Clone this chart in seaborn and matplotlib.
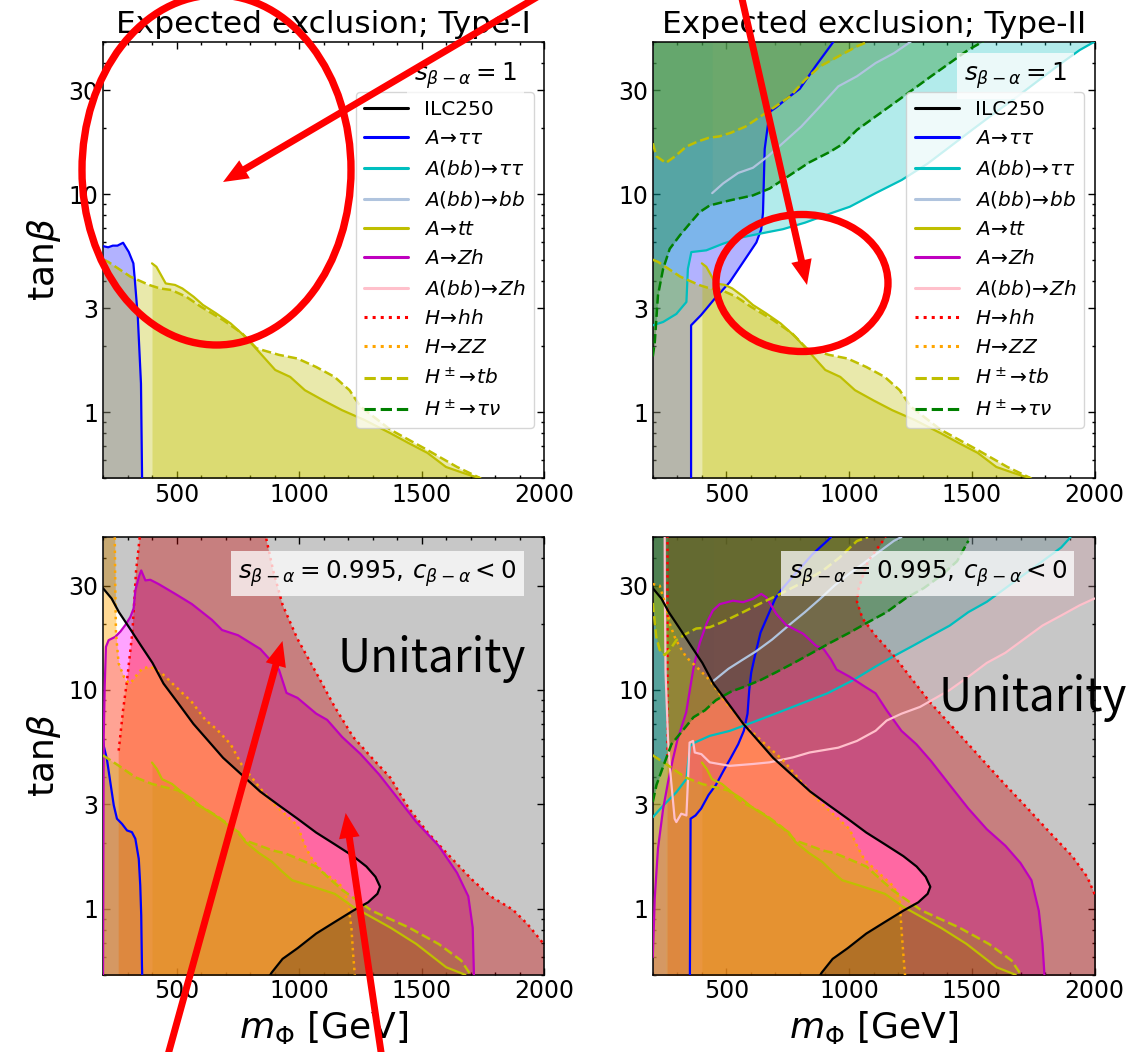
import numpy as np
import matplotlib
matplotlib.use("Agg")
import matplotlib.pyplot as plt
import seaborn as sns
from matplotlib.lines import Line2D
from matplotlib.patches import Ellipse, FancyArrowPatch
from matplotlib.ticker import LogLocator, MultipleLocator, NullFormatter

# ---------------- data (m in GeV, tanb) ----------------
# upper row, s_{b-a} = 1
att_x = [400, 418, 433, 456, 494, 524, 570, 608, 661, 721, 782, 842, 903, 964, 1024, 1100, 1176, 1267, 1373, 1448, 1524, 1600, 1661, 1706, 1736, 1760]
att_y = [4.81, 4.64, 4.33, 3.89, 3.83, 3.69, 3.38, 3.10, 2.84, 2.55, 2.21, 1.86, 1.56, 1.45, 1.26, 1.13, 1.02, 0.92, 0.80, 0.72, 0.65, 0.56, 0.53, 0.51, 0.50, 0.47]
tbl_x = [200, 221, 312, 388, 433, 479, 540, 600, 691, 767, 827, 918, 994, 1070, 1145, 1206, 1251, 1373, 1524, 1645, 1736, 1770]
tbl_y = [5.0, 4.89, 4.18, 3.83, 3.69, 3.63, 3.38, 3.04, 2.64, 2.30, 1.96, 1.83, 1.76, 1.61, 1.45, 1.26, 1.06, 0.83, 0.67, 0.56, 0.50, 0.47]
tau1_x = [200, 221, 240, 259, 282, 305, 324, 330, 342, 355, 360]
tau1_y = [5.77, 5.7, 5.8, 5.8, 5.98, 5.43, 4.81, 4.03, 2.74, 1.35, 0.45]

tau2_y = [0.45, 2.5, 2.78, 3.31, 3.94, 4.87, 6.0, 6.9, 8.2, 16.1, 23.8, 25.0, 27.3, 30.4, 39.0, 49.6, 80]
tau2_x = [356, 356, 396, 452, 513, 568, 622, 642, 649, 656, 676, 703, 744, 799, 866, 934, 1050]
bbtau2_x = [200, 242, 296, 337, 343, 357, 418, 486, 568, 636, 730, 821, 921, 1003, 1108, 1214, 1320, 1411, 1501, 1592, 1683, 1773, 1864, 1940, 2000]
bbtau2_y = [2.5, 2.59, 2.82, 3.2, 4.54, 5.42, 5.52, 5.92, 6.35, 6.58, 6.9, 7.4, 8.13, 8.75, 10.1, 11.6, 13.8, 16.5, 19.7, 23.5, 27.9, 33.3, 39.8, 45.8, 50]
bbbb2_x = [442, 487, 548, 608, 669, 729, 805, 881, 956, 1032, 1108, 1183, 1251]
bbbb2_y = [10.1, 11.2, 12.5, 13.2, 14.9, 17.1, 20.4, 25.2, 31.2, 34.7, 39.9, 44.3, 50]
taunu2_x = [200, 208, 221, 242, 269, 310, 350, 391, 432, 513, 608, 676, 758, 839, 921, 975, 1032, 1108, 1183, 1259, 1334, 1410, 1486, 1546]
taunu2_y = [1.8, 2.09, 3.43, 4.54, 5.61, 6.46, 7.31, 8.27, 8.87, 9.35, 9.86, 10.6, 12.2, 14.0, 15.6, 17.0, 19.7, 22.7, 26.1, 30.1, 34.7, 39.9, 45.9, 50.1]
tbu2_x = [200, 215, 253, 291, 336, 382, 427, 472, 518, 578, 639, 699, 760, 820, 881, 956, 1032, 1077]
tbu2_y = [17.1, 14.9, 13.9, 14.9, 16.5, 17.4, 18.1, 18.4, 19.1, 20.4, 22.7, 25.2, 28.1, 33.4, 38.5, 42.8, 47.6, 50]

# lower row, s_{b-a} = 0.995, c_{b-a} < 0
ilc_y = [29.2, 26.2, 22.7, 19.0, 15.9, 13.3, 10.7, 8.67, 7.0, 5.85, 4.90, 4.10, 3.43, 2.97, 2.58, 2.23, 1.97, 1.74, 1.56, 1.40, 1.26, 1.17, 1.07, 0.98, 0.87, 0.77, 0.66, 0.59, 0.51, 0.45]
ilc_x = [200, 235, 265, 311, 356, 402, 447, 508, 569, 630, 690, 766, 842, 918, 994, 1070, 1146, 1221, 1275, 1312, 1331, 1320, 1282, 1221, 1146, 1070, 994, 933, 888, 860]
attb_x = [400, 420, 441, 482, 523, 563, 604, 658, 713, 754, 781, 836, 890, 931, 972, 1039, 1146, 1221, 1373, 1479, 1601, 1677, 1700]
attb_y = [4.66, 4.35, 3.91, 3.72, 3.40, 3.18, 2.91, 2.67, 2.40, 2.24, 2.02, 1.8, 1.64, 1.48, 1.35, 1.28, 1.17, 1.02, 0.82, 0.69, 0.54, 0.5, 0.47]
tblb_x = [200, 203, 264, 332, 400, 454, 509, 563, 618, 672, 727, 781, 836, 890, 945, 1070, 1176, 1297, 1449, 1570, 1662, 1700, 1730]
tblb_y = [5.05, 5.0, 4.51, 3.99, 3.72, 3.59, 3.47, 3.07, 2.86, 2.62, 2.36, 2.05, 1.95, 1.85, 1.79, 1.56, 1.22, 0.98, 0.82, 0.69, 0.58, 0.5, 0.46]

tau3_x = [200, 203, 216, 230, 244, 257, 278, 298, 318, 332, 346, 352, 356, 359, 361]
tau3_y = [6.0, 5.55, 4.83, 3.78, 2.97, 2.58, 2.44, 2.28, 2.24, 2.09, 1.69, 1.28, 0.935, 0.55, 0.45]
zh3_x = [200, 203, 207, 212, 223, 250, 271, 291, 312, 325, 332, 346, 356, 373, 393, 427, 495, 563, 645, 686, 751, 842, 918, 949, 994, 1070, 1115, 1176, 1251, 1327, 1403, 1479, 1570, 1645, 1691, 1709, 1714, 1716]
zh3_y = [0.45, 6.15, 10.4, 15.75, 16.9, 17.5, 18.5, 19.8, 21.6, 23.6, 28.5, 32.8, 35.2, 31.7, 31.9, 30.5, 27.5, 24.7, 20.9, 18.8, 17.8, 15.4, 12.4, 9.7, 9.2, 7.8, 7.3, 6.1, 5.1, 4.11, 3.2, 2.49, 1.94, 1.46, 1.14, 0.82, 0.5, 0.45]
zz3_x = [200, 248, 250, 253, 264, 291, 311, 332, 359, 393, 441, 495, 563, 618, 665, 721, 766, 842, 903, 963, 994, 1024, 1054, 1100, 1146, 1176, 1199, 1214, 1221, 1231]
zz3_y = [80, 50, 29.5, 18.1, 13.2, 11.1, 10.7, 11.5, 12.5, 12.8, 11.9, 10.4, 8.8, 7.3, 6.6, 5.65, 4.56, 3.55, 2.97, 2.58, 2.40, 1.94, 1.68, 1.46, 1.35, 1.26, 1.09, 0.82, 0.62, 0.45]
hhl3_x = [264, 264, 282, 297, 320, 335, 350, 356]
hhl3_y = [0.3, 5.28, 8.1, 10.8, 18.4, 35, 50, 80]
hhr3_x = [850, 865, 895, 933, 994, 1070, 1145, 1221, 1297, 1373, 1448, 1524, 1600, 1706, 1782, 1873, 1933, 1999, 2100]
hhr3_y = [80, 50, 35, 24.5, 17.1, 12.0, 8.4, 6.1, 4.9, 3.97, 2.88, 2.24, 1.81, 1.36, 1.14, 0.99, 0.85, 0.69, 0.45]

tau4_x = [351, 354, 374, 397, 427, 457, 487, 518, 548, 571, 586, 593, 601, 616, 639, 669, 699, 729, 790, 850, 911, 926, 960]
tau4_y = [0.45, 2.58, 2.67, 2.87, 3.31, 3.68, 4.25, 4.90, 5.65, 6.51, 7.79, 10, 12.0, 14.3, 18.3, 21.9, 26.2, 29.2, 34.9, 41.7, 48.1, 49.9, 80]
bbtau4_x = [200, 242, 296, 337, 345, 352, 371, 432, 513, 568, 699, 805, 911, 1017, 1108, 1183, 1259, 1334, 1410, 1486, 1561, 1637, 1713, 1788, 1864, 1902]
bbtau4_y = [2.62, 2.96, 3.41, 3.92, 4.8, 5.55, 5.75, 6.17, 6.5, 6.85, 7.79, 8.67, 9.65, 11.1, 12.8, 14.3, 15.9, 17.7, 19.7, 22.7, 25.3, 29.2, 33.7, 38.8, 44.8, 49.9]
bbbb4_x = [447, 508, 566, 620, 686, 760, 820, 880, 940, 1000, 1060, 1108, 1183, 1213]
bbbb4_y = [11.0, 12.5, 13.75, 15.0, 17.0, 20.0, 22.7, 26.0, 30.0, 34.0, 38.0, 41.7, 48.1, 50]
zh4_x = [200, 208, 221, 242, 262, 282, 300, 336, 357, 368, 392, 418, 430, 445, 473, 527, 568, 608, 642, 663, 703, 744, 812, 866, 896, 926, 949, 1002, 1062, 1108, 1153, 1213, 1274, 1334, 1410, 1486, 1561, 1637, 1698, 1743, 1773, 1788, 1796, 1800]
zh4_y = [0.6, 1.12, 1.88, 2.86, 3.79, 4.83, 5.9, 7.9, 11.0, 13.0, 16.5, 20.0, 21.4, 23.1, 24.7, 25.6, 25.2, 26.1, 27.5, 26.5, 22.3, 19.8, 18.1, 15.9, 15.4, 13.8, 12.4, 11.5, 10.4, 9.65, 8.07, 6.51, 5.65, 4.73, 3.68, 2.87, 2.31, 1.94, 1.62, 1.35, 0.98, 0.69, 0.5, 0.45]
bbzh4_x = [248, 249, 252, 262, 269, 289, 296, 316, 337, 350, 364, 371, 398, 432, 513, 608, 676, 771, 839, 956, 1032, 1108, 1153, 1213, 1289, 1410, 1486, 1561, 1637, 1713, 1788, 1864, 1940, 2000]
bbzh4_y = [80, 30, 12, 6, 4.5, 2.58, 2.49, 2.72, 2.67, 5.75, 5.85, 5.18, 5.09, 4.67, 4.5, 4.59, 4.67, 4.92, 5.18, 5.45, 5.85, 6.51, 7.25, 7.79, 8.37, 10, 11.5, 13.3, 14.8, 17.1, 19.7, 21.9, 24.4, 26.2]
zz4_x = [200, 228, 255, 255, 269, 289, 310, 337, 377, 432, 500, 568, 640, 729, 805, 881, 941, 1002, 1032, 1062, 1123, 1183, 1206, 1213, 1221, 1231]
zz4_y = [30.5, 30.0, 23.9, 23.9, 20.1, 17.5, 15.75, 14.1, 12.8, 11.1, 8.7, 7.06, 5.9, 4.8, 3.81, 3.08, 2.67, 2.31, 1.94, 1.68, 1.45, 1.26, 1.09, 0.82, 0.62, 0.45]
# H->ZZ patches at the left edge: island above the H+->tb dip, strip below the H+->tau nu line
zzb4_x = [200, 214, 228, 248, 255]
zzb4_lo = [25, 17.5, 15.25, 14.45, 14.6]
zzb4_hi = [30.5, 30.3, 30.0, 25.5, 23.9]
zzs4_x = [200, 215, 245, 256]
zzs4_y = [3.08, 3.68, 4.56, 4.9]
hh4_left = 258
hhr4_y = [0.3, 0.9, 1.17, 1.40, 1.74, 2.23, 2.87, 3.68, 4.56, 5.65, 7.0, 8.67, 11.1, 14.3, 17.7, 21.2, 25.3, 29.2, 38.8, 48.1, 80]
hhr4_x = [2100, 2100, 2000, 1970, 1909, 1818, 1728, 1637, 1561, 1486, 1410, 1334, 1259, 1183, 1108, 1055, 1032, 1039, 1077, 1138, 1250]
taunu4_x = [200, 215, 245, 276, 321, 366, 412, 457, 518, 578, 639, 699, 775, 850, 926, 1002, 1077, 1153, 1229, 1304, 1380, 1440, 1486]
taunu4_y = [3.08, 3.68, 4.56, 5.65, 6.51, 7.51, 8.07, 8.98, 9.82, 10.4, 11.1, 12.0, 13.3, 14.8, 16.5, 18.3, 20.4, 22.7, 26.2, 29.2, 33.7, 38.8, 48.1]
tbu4_x = [200, 214, 228, 248, 269, 296, 337, 377, 432, 486, 568, 649, 731, 812, 894, 962, 1032, 1077]
tbu4_y = [25, 17.5, 15.25, 14.45, 15.25, 16.9, 18.1, 19.1, 19.35, 20.5, 22.7, 25.2, 27.9, 31.1, 35.2, 40.4, 48, 50]

labels = ['ILC250', r'$A\!\to\!\tau\tau$', r'$A(bb)\!\to\!\tau\tau$', r'$A(bb)\!\to\! bb$', r'$A\!\to\! tt$',
          r'$A\!\to\! Zh$', r'$A(bb)\!\to\! Zh$', r'$H\!\to\! hh$', r'$H\!\to\! ZZ$',
          r'$H^\pm\!\to\! tb$', r'$H^\pm\!\to\!\tau\nu$']
colors = ['k', 'b', 'c', 'lightsteelblue', 'y', 'm', 'pink', 'r', 'orange', 'y', 'g']
styles = ['-', '-', '-', '-', '-', '-', '-', ':', ':', '--', '--']

# ---------------- style ----------------
sns.set_style("ticks")
plt.rcParams['font.family'] = ['DejaVu Sans']
plt.rcParams['mathtext.fontset'] = 'dejavusans'
for k in ('text.color', 'axes.labelcolor', 'xtick.color', 'ytick.color', 'axes.edgecolor'):
    plt.rcParams[k] = 'black'

W, H = 1139, 1052
fig = plt.figure(figsize=(W / 100, H / 100), dpi=100)
ax_tl = fig.add_axes([103 / W, 1 - 477.7 / H, 441 / W, 436 / H])
ax_tr = fig.add_axes([652.8 / W, 1 - 477.7 / H, 441.7 / W, 436 / H])
ax_bl = fig.add_axes([103 / W, 1 - 974.6 / H, 441 / W, 437.5 / H])
ax_br = fig.add_axes([652.8 / W, 1 - 974.6 / H, 441.7 / W, 437.5 / H])

A = 0.3     # blue / cyan / green / pink fills
AY = 0.33   # yellow fills
AL = 0.36   # magenta / red fills
AZ = 0.42   # orange fill


def line(ax, x, y, color, ls='-', lw=1.6):
    sns.lineplot(x=x, y=y, ax=ax, color=color, linestyle=ls, lw=lw,
                 sort=False, estimator=None, legend=False, zorder=3)


def below(ax, x, y, color, a=A):
    ax.fill_between(x, 0.3, y, color=color, alpha=a, lw=0, zorder=1)


def above(ax, x, y, color, a=A):
    ax.fill_between(x, y, 80, color=color, alpha=a, lw=0, zorder=1)


def setup(ax):
    ax.set_yscale('log')
    ax.set_xlim(200, 2000)
    ax.set_ylim(0.5, 50)
    ax.set_xticks([500, 1000, 1500, 2000])
    ax.xaxis.set_minor_locator(MultipleLocator(100))
    ax.set_yticks([1, 3, 10, 30])
    ax.set_yticklabels(['1', '3', '10', '30'])
    ax.yaxis.set_minor_locator(LogLocator(base=10, subs=np.arange(2, 10), numticks=30))
    ax.yaxis.set_minor_formatter(NullFormatter())
    ax.tick_params(which='both', direction='in', top=True, right=True, labelsize=17, width=1)
    ax.tick_params(which='major', length=5)
    ax.tick_params(which='minor', length=2.5)
    for s in ax.spines.values():
        s.set_linewidth(1.1)
    ax.set_xlabel('')
    ax.set_ylabel('')


# ---------------- Type-I, s=1 ----------------
ax = ax_tl
below(ax, tau1_x, tau1_y, 'b')
below(ax, att_x, att_y, 'y', AY)
below(ax, tbl_x, tbl_y, 'y', AY)
line(ax, tau1_x, tau1_y, 'b')
line(ax, att_x, att_y, 'y')
line(ax, tbl_x, tbl_y, 'y', '--', 1.8)

# ---------------- Type-II, s=1 ----------------
ax = ax_tr
ax.fill_betweenx(tau2_y, 150, tau2_x, color='b', alpha=A, lw=0, zorder=1)
above(ax, bbtau2_x, bbtau2_y, 'c')
above(ax, bbbb2_x, bbbb2_y, 'lightsteelblue')
below(ax, att_x, att_y, 'y', AY)
below(ax, tbl_x, tbl_y, 'y', AY)
above(ax, tbu2_x, tbu2_y, 'y', AY)
above(ax, taunu2_x, taunu2_y, 'g')
line(ax, tau2_x, tau2_y, 'b')
line(ax, bbtau2_x, bbtau2_y, 'c')
line(ax, bbbb2_x, bbbb2_y, 'lightsteelblue')
line(ax, att_x, att_y, 'y')
line(ax, tbl_x, tbl_y, 'y', '--', 1.8)
line(ax, tbu2_x, tbu2_y, 'y', '--', 1.8)
line(ax, taunu2_x, taunu2_y, 'g', '--', 1.8)

# ---------------- Type-I, s=0.995 ----------------
ax = ax_bl
below(ax, tau3_x, tau3_y, 'b')
below(ax, attb_x, attb_y, 'y', AY)
below(ax, zh3_x, zh3_y, 'magenta', AL)
ax.fill(hhl3_x + hhr3_x + [2100], hhl3_y + hhr3_y + [0.3], color='r', alpha=AL, lw=0, zorder=1)
below(ax, zz3_x, zz3_y, 'orange', AZ)
below(ax, tblb_x, tblb_y, 'y', AY)
ax.fill_betweenx([80] + ilc_y, [150] + ilc_x, 2100, color='k', alpha=0.22, lw=0, zorder=1)
line(ax, tau3_x, tau3_y, 'b')
line(ax, hhl3_x[1:], hhl3_y[1:], 'r', ':', 1.8)
line(ax, hhr3_x, hhr3_y, 'r', ':', 1.8)
line(ax, zh3_x, zh3_y, 'm')
line(ax, zz3_x, zz3_y, 'orange', ':', 1.8)
line(ax, attb_x, attb_y, 'y')
line(ax, tblb_x, tblb_y, 'y', '--', 1.8)
line(ax, ilc_x, ilc_y, 'k')

# ---------------- Type-II, s=0.995 ----------------
ax = ax_br
ax.fill_betweenx(tau4_y, 150, tau4_x, color='b', alpha=A, lw=0, zorder=1)
above(ax, bbtau4_x, bbtau4_y, 'c', 0.25)
above(ax, bbbb4_x, bbbb4_y, 'lightsteelblue')
below(ax, attb_x, attb_y, 'y', AY)
below(ax, zh4_x, zh4_y, 'magenta', AL)
ax.fill(bbzh4_x + [2100, 2100], bbzh4_y + [28, 80], color='pink', alpha=A, lw=0, zorder=1)
ax.fill_betweenx(hhr4_y, hh4_left, hhr4_x, color='r', alpha=AL, lw=0, zorder=1)
below(ax, zz4_x[3:], zz4_y[3:], 'orange', AZ)
ax.fill_between(zzb4_x, zzb4_lo, zzb4_hi, color='orange', alpha=AZ, lw=0, zorder=1)
below(ax, zzs4_x, zzs4_y, 'orange', AZ)
below(ax, tblb_x, tblb_y, 'y', AY)
above(ax, tbu4_x, tbu4_y, 'y', AY)
above(ax, taunu4_x, taunu4_y, 'g', 0.34)
ax.fill_betweenx([80] + ilc_y, [150] + ilc_x, 2100, color='k', alpha=0.22, lw=0, zorder=1)
line(ax, tau4_x, tau4_y, 'b')
line(ax, bbtau4_x, bbtau4_y, 'c')
line(ax, bbbb4_x, bbbb4_y, 'lightsteelblue')
line(ax, [hh4_left, hh4_left], [5.0, 80], 'r', ':', 1.8)
line(ax, hhr4_x, hhr4_y, 'r', ':', 1.8)
line(ax, zh4_x, zh4_y, 'm')
line(ax, bbzh4_x, bbzh4_y, 'pink')
line(ax, zz4_x, zz4_y, 'orange', ':', 1.8)
line(ax, attb_x, attb_y, 'y')
line(ax, tblb_x, tblb_y, 'y', '--', 1.8)
line(ax, tbu4_x, tbu4_y, 'y', '--', 1.8)
line(ax, taunu4_x, taunu4_y, 'g', '--', 1.8)
line(ax, ilc_x, ilc_y, 'k')

# ---------------- axes decoration ----------------
for ax in (ax_tl, ax_tr, ax_bl, ax_br):
    setup(ax)
for ax in (ax_tl, ax_bl):
    ax.set_ylabel(r'tan$\beta$', fontsize=26)
for ax in (ax_bl, ax_br):
    ax.set_xlabel(r'$m_\Phi$ [GeV]', fontsize=26)
ax_tl.set_title('Expected exclusion; Type-I', fontsize=22.5)
ax_tr.set_title('Expected exclusion; Type-II', fontsize=22.5)

handles = [Line2D([], [], color=c, ls=s, lw=2.2) for c, s in zip(colors, styles)]
box = dict(boxstyle='square,pad=0.3', fc='white', ec='none', alpha=0.75)
for ax in (ax_tl, ax_tr):
    ax.legend(handles, labels, loc='upper right', bbox_to_anchor=(1, 0.908),
              fontsize=14.5, handlelength=2.2, framealpha=0.8).set_zorder(6)
    ax.text(0.938, 0.921, r'$s_{\beta-\alpha}=1$', transform=ax.transAxes, ha='right',
            va='center', fontsize=17.7, bbox=box, zorder=7)
for ax in (ax_bl, ax_br):
    ax.text(0.938, 0.917, r'$s_{\beta-\alpha}=0.995,\, c_{\beta-\alpha}<0$', transform=ax.transAxes,
            ha='right', va='center', fontsize=17.7, bbox=box, zorder=7)

cjk = ['Noto Sans CJK JP', 'DejaVu Sans']
fig.text(338 / W, 1 - 671.8 / H, 'Unitarity', fontsize=33, family=cjk, va='baseline')
fig.text(938.6 / W, 1 - 711 / H, 'Unitarity', fontsize=33, family=cjk, va='baseline')

# ---------------- red annotation marks (pixel positions on the page) ----------------
ellipses = [((216.5, 170), 269, 350), ((802, 283), 172, 137)]
arrows = [((549, -10), (223, 182)), ((740, -10), (807, 285)),
          ((166, 1062), (282.5, 641)), ((382.5, 1062), (345.7, 813))]
for (cx, cy), w, h in ellipses:
    fig.add_artist(Ellipse((cx / W, 1 - cy / H), w / W, h / H, transform=fig.transFigure,
                           fill=False, ec='red', lw=5.3, zorder=20))
for (x0, y0), (x1, y1) in arrows:
    fig.add_artist(FancyArrowPatch((x0 / W, 1 - y0 / H), (x1 / W, 1 - y1 / H),
                                   transform=fig.transFigure, shrinkA=0, shrinkB=0,
                                   arrowstyle='simple,head_length=18,head_width=15,tail_width=5',
                                   fc='red', ec='none', zorder=20))

fig.savefig('out.png', dpi=100)
